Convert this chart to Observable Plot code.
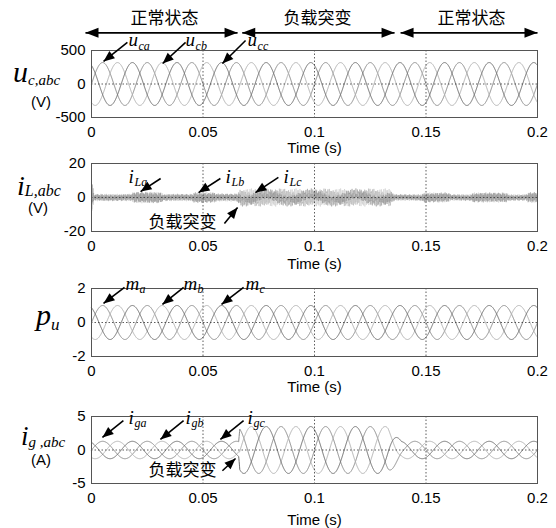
<!DOCTYPE html>
<html><head><meta charset="utf-8">
<script src="https://cdn.jsdelivr.net/npm/d3@7"></script>
<script src="https://cdn.jsdelivr.net/npm/@observablehq/plot@0.6"></script>
<style>
html,body{margin:0;padding:0;background:#fff;}
#fig{position:relative;width:556px;height:528px;overflow:hidden;background:#fff;}
#fig > svg{display:block;}
#overlay{position:absolute;left:0;top:0;pointer-events:none;}
</style></head><body><div id="fig"></div>
<script>
// ---------- shared axis data ----------
const timeTicks = [0, 0.05, 0.1, 0.15, 0.2];
const timeTickLabels = ["0", "0.05", "0.1", "0.15", "0.2"];
const gridTimes = [0.05, 0.1, 0.15];
const phaseNames = ["a", "b", "c"];
const phaseShiftDeg = [0, -120, 120];
const phaseColors = ["#8a8a8a", "#b2b2b2", "#6c6c6c"];
const rippleColors = ["#a6a6a6", "#c4c4c4", "#8e8e8e"];
const gridFreqHz = 50;

// ---------- top state bar ----------
const stateNames = ["正常状态", "负载突变", "正常状态"];
const stateLabelT = [0.0327, 0.1013, 0.1704];
const stateFromT = [-0.0027, 0.0676, 0.1386];
const stateToT = [0.0655, 0.1359, 0.2];
const stateLabelV = 980, stateArrowV = 764;

// ---------- panel 1: u_c,abc ----------
const ucTicks = [-500, 0, 500];
const ucAmpT = [0, 0.2];
const ucAmpV = [320, 320];
const ucLabelSub = ["ca", "cb", "cc"];
const ucLabelT = [0.0166, 0.0422, 0.0700];
const ucLabelV = [655, 655, 655];
const ucArrFromT = [0.0161, 0.0422, 0.0691];
const ucArrFromV = [620, 620, 649];
const ucArrToT = [0.0054, 0.0319, 0.0587];
const ucArrToV = [336, 306, 306];

// ---------- panel 2: i_L,abc ----------
const iLTicks = [-20, 0, 20];
const iLFundT = [0, 0.066, 0.067, 0.134, 0.135, 0.2];
const iLFundV = [0.4, 0.4, 2.2, 2.2, 0.4, 0.4];
const iLRipT = [0, 0.0006, 0.0010, 0.018, 0.019, 0.031, 0.032, 0.045, 0.046, 0.055, 0.056, 0.065, 0.066, 0.134, 0.136, 0.148, 0.149, 0.16, 0.161, 0.17, 0.171, 0.186, 0.187, 0.195, 0.196, 0.2];
const iLRipV = [8, 8, 1.8, 1.8, 3.0, 3.0, 1.8, 1.8, 2.8, 2.8, 2.0, 2.0, 3.2, 3.2, 1.6, 1.6, 2.6, 2.6, 1.6, 1.6, 2.6, 2.6, 1.6, 1.6, 2.8, 2.8];
const iLRipHz = [1700, 2900];
const iLRipMix = [0.6, 0.4];
const iLLabelSub = ["La", "Lb", "Lc"];
const iLLabelT = [0.0166, 0.0601, 0.0861];
const iLLabelV = [12.4, 12.4, 12.4];
const iLArrFromT = [0.0310, 0.0578, 0.0838];
const iLArrFromV = [11.2, 11.2, 11.8];
const iLArrToT = [0.0220, 0.0480, 0.0735];
const iLArrToV = [3.5, 2.9, 2.9];
const iLNoteT = [0.0408], iLNoteV = [-14.7];
const iLNoteArr = {fromT: [0.0596], fromV: [-15.3], toT: [0.0655], toV: [-5.9]};

// ---------- panel 3: p_u ----------
const puTicks = [-2, 0, 2];
const puAmpT = [0, 0.2];
const puAmpV = [1.0, 1.0];
const puLabelSub = ["a", "b", "c"];
const puLabelT = [0.0152, 0.0413, 0.0691];
const puLabelV = [2.29, 2.29, 2.29];
const puArrFromT = [0.0148, 0.0413, 0.0682];
const puArrFromV = [2.06, 2.06, 2.06];
const puArrToT = [0.0054, 0.0318, 0.0583];
const puArrToV = [1.12, 1.06, 1.06];

// ---------- panel 4: i_g,abc ----------
const igTicks = [-5, 0, 5];
const igAmpT = [0, 0.066, 0.0665, 0.133, 0.139, 0.2];
const igAmpV = [1.3, 1.3, 3.5, 3.5, 1.3, 1.3];
const igLabelSub = ["ga", "gb", "gc"];
const igLabelT = [0.0166, 0.0422, 0.0700];
const igLabelV = [4.85, 4.85, 4.85];
const igArrFromT = [0.0143, 0.0413, 0.0682];
const igArrFromV = [4.4, 4.4, 4.4];
const igArrToT = [0.0049, 0.0309, 0.0578];
const igArrToV = [1.87, 1.57, 1.57];
const igNoteT = [0.0408], igNoteV = [-3.06];
const igNoteArr = {fromT: [0.0587], fromV: [-3.1], toT: [0.0646], toV: [-1.27]};

// ---------- helpers ----------
function interp(kT, kV, t) {
  if (t <= kT[0]) return kV[0];
  for (let i = 1; i < kT.length; i++) {
    if (t <= kT[i]) { const f = (t - kT[i-1]) / (kT[i] - kT[i-1]); return kV[i-1] + f * (kV[i] - kV[i-1]); }
  }
  return kV[kV.length - 1];
}
function threePhase(ampT, ampV, step, extra) {
  const rows = [];
  const n = Math.round(0.2 / step);
  phaseNames.forEach((ph, k) => {
    const sh = phaseShiftDeg[k] * Math.PI / 180;
    for (let i = 0; i <= n; i++) {
      const t = i * step;
      let v = interp(ampT, ampV, t) * Math.sin(2 * Math.PI * gridFreqHz * t + sh);
      if (extra) v += extra(t, k);
      rows.push({t, v, phase: ph});
    }
  });
  return rows;
}
function zip(T, V, extra) { return T.map((t, i) => Object.assign({t, v: V[i]}, extra ? extra(i) : {})); }
function arrows(fT, fV, tT, tV) { return fT.map((_, i) => ({x1: fT[i], y1: fV[i], x2: tT[i], y2: tV[i]})); }

function triHead(len, half) {
  return (color) => {
    const ns = "http://www.w3.org/2000/svg";
    const m = document.createElementNS(ns, "marker");
    m.setAttribute("viewBox", `${-len} ${-half} ${len} ${2 * half}`);
    m.setAttribute("markerWidth", len);
    m.setAttribute("markerHeight", 2 * half);
    m.setAttribute("markerUnits", "userSpaceOnUse");
    m.setAttribute("orient", "auto-start-reverse");
    m.setAttribute("overflow", "visible");
    const p = document.createElementNS(ns, "path");
    p.setAttribute("d", `M0,0L${-len},${-half}L${-len},${half}Z`);
    p.setAttribute("fill", (!color || color === "currentColor") ? "black" : color);
    p.setAttribute("stroke", "none");
    m.appendChild(p);
    return m;
  };
}

const SERIF = "Liberation Serif, Times New Roman, serif";
const SANS = "Liberation Sans, Arial, sans-serif";
const CJK = "Noto Sans CJK SC, sans-serif";

function panel({waves, colors, lineWidth, yDomain, yTicks, height, marginTop, marginBottom, timeDy, labels, mainLetter, mainDx, arrowsData, notes, extraMarks}) {
  const marks = [
    Plot.line(waves, {x: "t", y: "v", z: "phase", stroke: "phase", strokeWidth: lineWidth || 1}),
    Plot.ruleY([0], {stroke: "#333", strokeWidth: 0.8, strokeDasharray: "1.5,2"}),
    Plot.ruleX(gridTimes, {stroke: "#333", strokeWidth: 0.8, strokeDasharray: "1.5,2"}),
    Plot.frame({stroke: "#555", strokeWidth: 1}),
    Plot.text(["Time (s)"], {text: d => d, frameAnchor: "bottom", lineAnchor: "middle", dy: timeDy, fontSize: 15, fontFamily: SANS, fill: "black"}),
    Plot.link(arrowsData, {x1: "x1", y1: "y1", x2: "x2", y2: "y2", stroke: "black", strokeWidth: 1.6, markerEnd: triHead(11, 4.5)}),
    Plot.text(labels, {x: "t", y: "v", text: () => mainLetter, textAnchor: "start", fontFamily: SERIF, fontStyle: "italic", fontSize: 19, fill: "black"}),
    Plot.text(labels, {x: "t", y: "v", text: "sub", textAnchor: "start", dx: mainDx, dy: 6, fontFamily: SERIF, fontStyle: "italic", fontSize: 12, fill: "black"})
  ];
  if (notes) {
    marks.push(Plot.text(notes.pos, {x: "t", y: "v", text: () => "负载突变", fontFamily: CJK, fontSize: 17, fill: "black"}));
    marks.push(Plot.link(notes.arr, {x1: "x1", y1: "y1", x2: "x2", y2: "y2", stroke: "black", strokeWidth: 1.6, markerEnd: triHead(11, 4.5)}));
  }
  if (extraMarks) marks.push(...extraMarks);
  return Plot.plot({
    width: 556, height, marginLeft: 91, marginRight: 19, marginTop, marginBottom,
    style: {fontFamily: SANS, fontSize: "15px", color: "black", background: "transparent", overflow: "visible"},
    x: {domain: [0, 0.2], ticks: timeTicks, tickFormat: (d) => timeTickLabels[timeTicks.indexOf(d)] ?? "", tickSize: 0, tickPadding: 9, label: null},
    y: {domain: yDomain, ticks: yTicks, tickFormat: d => String(d), tickSize: 0, tickPadding: 6, label: null},
    color: {domain: phaseNames, range: colors || phaseColors},
    marks
  });
}

const fig = document.getElementById("fig");

// panel 1
const stateTextData = zip(stateLabelT, stateLabelT.map(() => stateLabelV), i => ({name: stateNames[i]}));
const stateArrows = arrows(stateFromT, stateFromT.map(() => stateArrowV), stateToT, stateToT.map(() => stateArrowV));
fig.appendChild(panel({
  waves: threePhase(ucAmpT, ucAmpV, 0.0001),
  yDomain: [-500, 500], yTicks: ucTicks, height: 150, marginTop: 50, marginBottom: 33, timeDy: 31,
  labels: zip(ucLabelT, ucLabelV, i => ({sub: ucLabelSub[i]})), mainLetter: "u", mainDx: 10,
  arrowsData: arrows(ucArrFromT, ucArrFromV, ucArrToT, ucArrToV),
  extraMarks: [
    Plot.text(stateTextData, {x: "t", y: "v", text: "name", fontFamily: CJK, fontSize: 17, fill: "black"}),
    Plot.link(stateArrows, {x1: "x1", y1: "y1", x2: "x2", y2: "y2", stroke: "black", strokeWidth: 1.8, markerStart: triHead(13, 5), markerEnd: triHead(13, 5)})
  ]
}));

// panel 2
const iLExtra = (t, k) => interp(iLRipT, iLRipV, t) * (iLRipMix[0] * Math.sin(2 * Math.PI * iLRipHz[0] * t + k * 2.1) + iLRipMix[1] * Math.sin(2 * Math.PI * iLRipHz[1] * t + k * 1.3));
fig.appendChild(panel({
  waves: threePhase(iLFundT, iLFundV, 0.00004, iLExtra), colors: rippleColors, lineWidth: 0.5,
  yDomain: [-20, 20], yTicks: iLTicks, height: 130, marginTop: 13, marginBottom: 49, timeDy: 33,
  labels: zip(iLLabelT, iLLabelV, i => ({sub: iLLabelSub[i]})), mainLetter: "i", mainDx: 6,
  arrowsData: arrows(iLArrFromT, iLArrFromV, iLArrToT, iLArrToV),
  notes: {pos: zip(iLNoteT, iLNoteV), arr: arrows(iLNoteArr.fromT, iLNoteArr.fromV, iLNoteArr.toT, iLNoteArr.toV)}
}));

// panel 3
fig.appendChild(panel({
  waves: threePhase(puAmpT, puAmpV, 0.0001),
  yDomain: [-2, 2], yTicks: puTicks, height: 120, marginTop: 8, marginBottom: 44, timeDy: 31,
  labels: zip(puLabelT, puLabelV, i => ({sub: puLabelSub[i]})), mainLetter: "m", mainDx: 14,
  arrowsData: arrows(puArrFromT, puArrFromV, puArrToT, puArrToV)
}));

// panel 4
fig.appendChild(panel({
  waves: threePhase(igAmpT, igAmpV, 0.0001),
  yDomain: [-5, 5], yTicks: igTicks, height: 128, marginTop: 16, marginBottom: 45, timeDy: 37,
  labels: zip(igLabelT, igLabelV, i => ({sub: igLabelSub[i]})), mainLetter: "i", mainDx: 6,
  arrowsData: arrows(igArrFromT, igArrFromV, igArrToT, igArrToV),
  notes: {pos: zip(igNoteT, igNoteV), arr: arrows(igNoteArr.fromT, igNoteArr.fromV, igNoteArr.toT, igNoteArr.toV)}
}));

// y-axis titles (real text with subscripts)
const ns = "http://www.w3.org/2000/svg";
const ov = document.createElementNS(ns, "svg");
ov.setAttribute("id", "overlay"); ov.setAttribute("width", 556); ov.setAttribute("height", 528);
ov.innerHTML = `
<g font-family="${SERIF}" font-style="italic" fill="black">
  <text x="13" y="82"><tspan font-size="30">u</tspan><tspan font-size="15" dy="3">c,abc</tspan></text>
  <text x="17" y="195"><tspan font-size="28">i</tspan><tspan font-size="16" dy="1">L,abc</tspan></text>
  <text x="36" y="325"><tspan font-size="30">p</tspan><tspan font-size="17" dy="5">u</tspan></text>
  <text x="21" y="445"><tspan font-size="27">i</tspan><tspan font-size="15" dy="2">g ,abc</tspan></text>
</g>
<g font-family="${SANS}" font-size="15" fill="black" text-anchor="middle">
  <text x="41" y="107">(V)</text>
  <text x="38" y="213">(V)</text>
  <text x="41" y="465">(A)</text>
</g>`;
fig.appendChild(ov);
</script></body></html>
